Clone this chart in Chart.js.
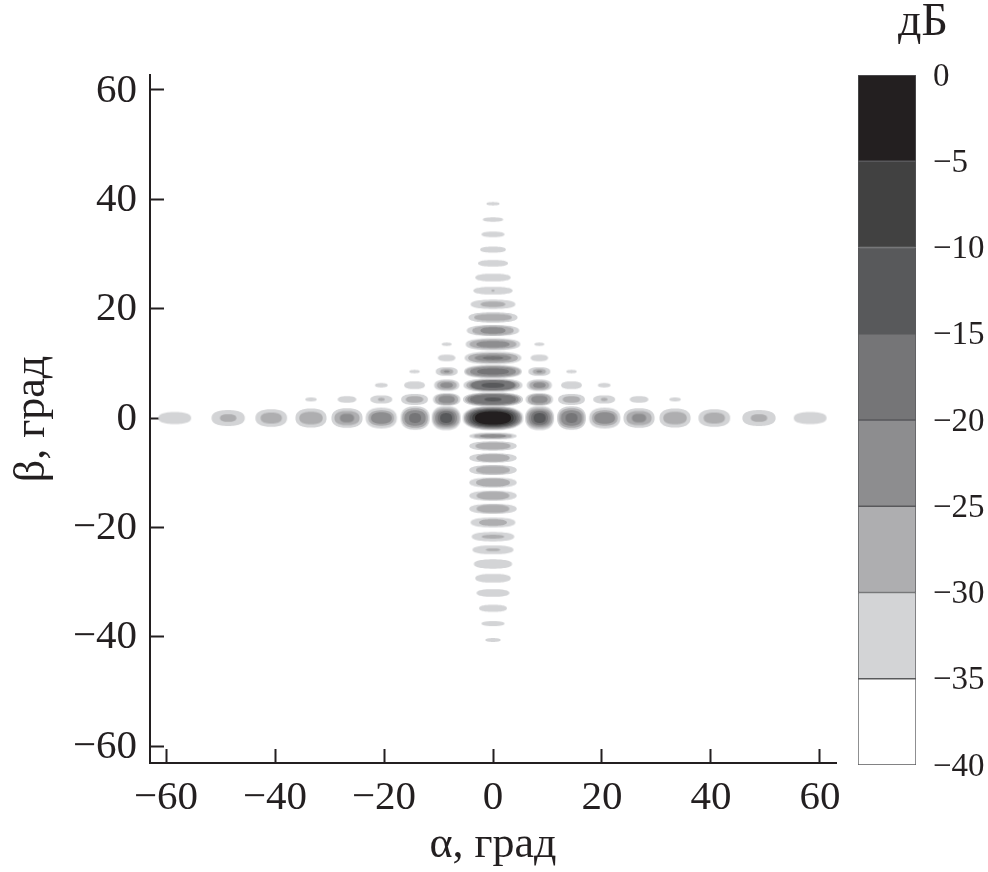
<!DOCTYPE html>
<html><head><meta charset="utf-8">
<style>html,body{margin:0;padding:0;background:#fff;width:988px;height:872px;overflow:hidden}
canvas{position:absolute;top:0}#main{left:0}#bar{left:857px}</style>
<script src="https://cdn.jsdelivr.net/npm/chart.js@4/dist/chart.umd.min.js"></script>
</head><body>
<canvas id="main" width="988" height="872"></canvas>
<canvas id="bar" width="131" height="872"></canvas>
<script>
// Contour lobes, in degrees: [alpha, beta, half-width in alpha, half-width in beta]
const band35 = [ // -35 dB contour
 [-58.4,0,3,1.1],[-48.6,0,3.05,1.45],[-40.7,0,2.9,1.6],[-33.4,0,2.85,1.75],[-26.8,0,2.85,1.8],[-20.5,0,2.85,1.9],[-14.3,0,2.65,2.15],[-8.6,0,2.65,2.2],
 [0,0,5.55,2.2],[8.55,0,2.65,2.2],[14.4,0,2.65,2.15],[20.5,0,2.85,1.9],[26.8,0,2.85,1.8],[33.4,0,2.85,1.75],[40.6,0,2.9,1.6],[48.8,0,3.05,1.45],[58.2,0,3,1.1],
 [0,39.2,1.2,.3],[0,36.3,1.85,.4],[0,33.6,2.1,.5],[0,30.8,2.35,.55],[0,28.3,2.75,.6],[0,25.7,3.25,.7],[0,23.3,3.6,.7],[0,20.8,4.1,.85],[0,18.4,4.5,.95],[0,16,4.8,1],[0,13.5,5,1.1],[0,11,5.2,1.15],[0,8.5,5.3,1.2],[0,6,5.4,1.25],[0,3.4,5.5,1.3],
 [0,-3.3,4.35,.6],[0,-5.1,4.35,.85],[0,-7.3,4.35,.85],[0,-9.5,4.35,.9],[0,-11.8,4.35,.9],[0,-14.2,4.35,.9],[0,-16.6,4.35,.9],[0,-19.1,4.1,.9],[0,-21.7,3.9,.85],[0,-24.1,3.75,.8],[0,-26.7,3.5,.85],[0,-29.3,3.25,.8],[0,-32,3,.7],[0,-34.8,2.55,.65],[0,-37.6,2.1,.45],[0,-40.6,1.4,.35],
 [-8.5,3.4,2.5,1.15],[-8.5,6,2.3,1.05],[-8.5,8.5,2,.8],[-8.5,11,1.6,.6],[-8.5,13.5,.9,.3],
 [8.5,3.4,2.5,1.15],[8.5,6,2.3,1.05],[8.5,8.5,2,.8],[8.5,11,1.6,.6],[8.5,13.5,.9,.3],
 [-14.4,3.4,2.45,1],[-14.4,6,1.9,.7],[-14.4,8.5,.95,.3],[14.4,3.4,2.45,1],[14.4,6,1.9,.7],[14.4,8.5,.95,.3],
 [-20.5,3.4,2,.75],[-20.5,6,1.15,.4],[20.4,3.4,2,.75],[20.4,6,1.15,.4],
 [-26.8,3.4,1.7,.6],[26.8,3.4,1.7,.6],[-33.4,3.4,1.05,.35],[33.4,3.4,1.05,.35]
];
const band30 = [ // -30 dB contour
 [-48.6,0,1.5,.7],[-40.7,0,1.95,1],[-33.4,0,2.15,1.15],[-26.8,0,2.3,1.3],[-20.5,0,2.35,1.4],[-14.3,0,2.35,1.8],[-8.6,0,2.4,1.85],
 [0,0,5.3,2.05],[8.55,0,2.4,1.85],[14.4,0,2.35,1.8],[20.5,0,2.35,1.4],[26.8,0,2.3,1.3],[33.4,0,2.15,1.15],[40.6,0,1.95,1],[48.8,0,1.5,.7],
 [0,23.3,.25,.2],[0,20.8,2.25,.5],[0,18.4,3.45,.65],[0,16,3.8,.85],[0,13.5,4.3,.85],[0,11,4.55,.9],[0,8.5,5,1.05],[0,6,4.9,1.05],[0,3.4,5.1,1.15],
 [0,-3.3,3.5,.45],[0,-5.1,3.2,.65],[0,-7.3,3.05,.7],[0,-9.5,3.1,.75],[0,-11.8,3.1,.75],[0,-14.2,3,.75],[0,-16.6,3,.75],[0,-19.1,2.55,.6],[0,-21.7,2.05,.35],[0,-24.1,1.3,.25],
 [-8.5,3.4,2.1,1],[-8.5,6,1.8,.8],[-8.5,8.5,1.2,.5],[8.5,3.4,2.1,1],[8.5,6,1.8,.8],[8.5,8.5,1.2,.5],
 [-14.4,3.4,1.6,.6],[14.4,3.4,1.6,.6],[-20.5,3.4,.6,.3],[20.4,3.4,.6,.3]
];
const band25 = [ // -25 dB contour
 [-26.8,0,1.3,.8],[-20.5,0,1.9,1.05],[-14.3,0,1.95,1.4],[-8.6,0,2,1.5],
 [0,0,5.05,1.9],[8.55,0,2,1.5],[14.4,0,1.95,1.4],[20.5,0,1.9,1.05],[26.8,0,1.3,.8],
 [0,16,2.3,.6],[0,13.5,3.05,.6],[0,11,3.35,.6],[0,8.5,4.2,.85],[0,6,4.3,.9],[0,3.4,4.7,1],[0,-3.3,2.4,.3],
 [-8.5,3.4,1.5,.7],[-8.5,6,1.15,.5],[-8.5,8.5,.5,.2],[8.5,3.4,1.5,.7],[8.5,6,1.15,.5],[8.5,8.5,.5,.2]
];
const band20 = [ // -20 dB contour
 [-14.3,0,1.1,.9],[-8.6,0,1.55,1.25],[0,0,4.7,1.75],[8.55,0,1.55,1.25],[14.4,0,1.1,.9],
 [0,11,1.85,.3],[0,8.5,2.9,.55],[0,6,4,.9],[0,3.4,4.2,.85]
];
const band15 = [ // -15 dB contour
 [-8.6,0,1.1,.9],[0,0,4.3,1.6],[8.55,0,1.1,.9],[0,6,2.1,.45],[0,3.4,1.55,.35]
];
const band10 = [[0,0,3.8,1.4]]; // -10 dB contour
const band5 = [[0,0,3.3,1.2]];  // -5 dB contour
const axisTicks = [-60,-40,-20,0,20,40,60];
const barEdges = [0,-5,-10,-15,-20,-25,-30,-35,-40];
const barColors = ['#231f20','#414141','#58595b','#757577','#8d8d8f','#aeaeb0','#d3d4d6','#ffffff'];
const xTitle = 'α, град', yTitle = 'β, град', barTitle = 'дБ';

const ink = '#231f20', serif = '"Liberation Serif","Times New Roman",serif';
const minus = v => String(v).replace('-', '\u2212');
const lobeCache = {};
function lobeImage(rx, ry, color) {
  const key = rx.toFixed(1)+'|'+ry.toFixed(1)+'|'+color;
  if (lobeCache[key]) return lobeCache[key];
  const pad = 4, c = document.createElement('canvas');
  c.width = Math.ceil(2*rx + 2*pad); c.height = Math.ceil(2*ry + 2*pad);
  const g = c.getContext('2d');
  g.filter = 'blur(0.6px)';
  g.fillStyle = color;
  g.beginPath();
  for (let k = 0; k < 72; k++) {
    const t = k/72*Math.PI*2, cs = Math.cos(t), sn = Math.sin(t), e = 2/2.4;
    const px = c.width/2 + rx*Math.sign(cs)*Math.pow(Math.abs(cs), e);
    const py = c.height/2 + ry*Math.sign(sn)*Math.pow(Math.abs(sn), e);
    if (k) g.lineTo(px, py); else g.moveTo(px, py);
  }
  g.closePath(); g.fill();
  return lobeCache[key] = c;
}
function lobeStyle(color) {
  return ctx => {
    if (!ctx.raw) return 'circle';
    const xs = ctx.chart.scales.x, ys = ctx.chart.scales.y;
    const rx = Math.abs(xs.getPixelForValue(ctx.raw.rx) - xs.getPixelForValue(0));
    const ry = Math.abs(ys.getPixelForValue(ctx.raw.ry) - ys.getPixelForValue(0));
    return lobeImage(rx, ry, color);
  };
}
const toPoints = band => band.map(b => ({x:b[0], y:b[1], rx:b[2], ry:b[3]}));
const lobeBands = [[band5,0],[band10,1],[band15,2],[band20,3],[band25,4],[band30,5],[band35,6]];

function axis(min, max, title, fit, labelOffset, padding) {
  return {
    type:'linear', min, max,
    afterBuildTicks: s => { s.ticks = axisTicks.map(v => ({value:v})); },
    afterFit: fit,
    grid:{drawOnChartArea:false, drawTicks:true, tickLength:-14, tickWidth:2, tickColor:ink},
    border:{display:true, color:ink, width:2},
    ticks:{autoSkip:false, maxRotation:0, includeBounds:false, padding, labelOffset, color:ink,
      font:{family:serif, size:41}, callback:v => minus(v)},
    title:{display:true, text:title, color:ink, font:{family:serif, size:44}, padding:{top:6,bottom:0}}
  };
}
new Chart(document.getElementById('main'), {
  type:'scatter',
  data:{datasets: lobeBands.map(([band,i]) => ({
    data:toPoints(band), showLine:false, pointRadius:1, pointHoverRadius:1,
    pointStyle:lobeStyle(barColors[i]), backgroundColor:barColors[i], borderWidth:0
  }))},
  options:{
    responsive:false, animation:false, events:[],
    layout:{padding:{top:75, right:152, left:0, bottom:0}},
    plugins:{legend:{display:false}, tooltip:{enabled:false}, title:{display:false}},
    scales:{
      x:axis(-62.94, 62.94, xTitle, s => { s.height = 109; }, 0, 25),
      y:axis(-63.1, 62.74, yTitle, s => { s.width = 150; }, 1, 27)
    }
  }
});
new Chart(document.getElementById('bar'), {
  type:'bar',
  data:{labels:[barTitle], datasets: barColors.map((c,i) => ({
    data:[[barEdges[i+1], barEdges[i]]], backgroundColor:c,
    borderColor:'#58595b', borderWidth:1, borderSkipped:false,
    barPercentage:1, categoryPercentage:1, grouped:false
  }))},
  options:{
    responsive:false, animation:false, events:[],
    layout:{padding:{left:1, top:0, right:0, bottom:107}},
    plugins:{legend:{display:false}, tooltip:{enabled:false},
      title:{display:true, text:barTitle, color:ink, font:{family:serif, size:46, weight:'normal', lineHeight:1}, padding:{top:0,bottom:29}}},
    scales:{
      x:{display:false},
      y:{type:'linear', position:'right', min:-40, max:0,
        afterFit:s => { s.width = 72; },
        afterBuildTicks:s => { s.ticks = barEdges.map(v => ({value:v})); },
        grid:{display:false}, border:{display:false},
        ticks:{autoSkip:false, padding:9, labelOffset:2, color:ink, font:{family:serif, size:33}, callback:v => minus(v)}}
    }
  }
});
</script>
</body></html>
